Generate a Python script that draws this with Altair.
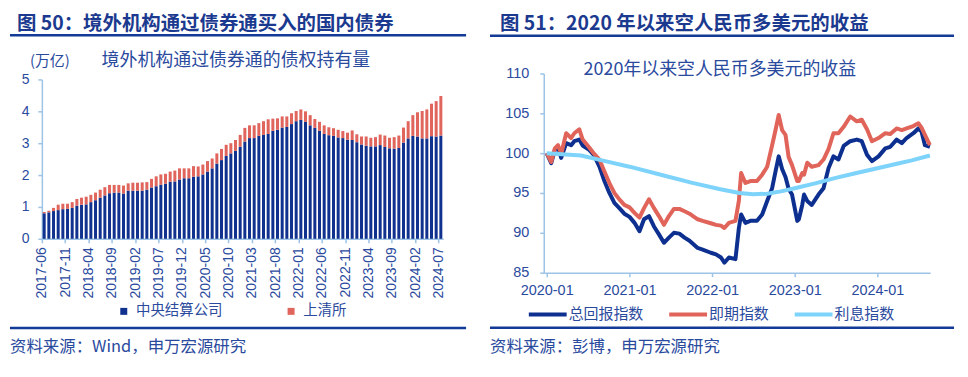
import altair as alt
import pandas as pd

FONT = "Noto Sans CJK SC"
NUMFONT = "Liberation Sans"
label_color = "#2A4A9E"
title_color = "#1B3A8F"
axis_color = "#9DC3E6"
rule_color = "#123A96"

# ---------------- left panel data ----------------
all_months = [f"{y}-{m:02d}" for y in range(2017, 2025) for m in range(1, 13)]
months = all_months[all_months.index("2017-06"):all_months.index("2024-07") + 1]
tick_months = months[::5]

ccdc = [0.80, 0.83, 0.87, 0.90, 0.93, 0.94, 0.97, 1.04, 1.07, 1.08,
        1.15, 1.21, 1.29, 1.36, 1.43, 1.45, 1.45, 1.42, 1.51, 1.51,
        1.51, 1.51, 1.54, 1.61, 1.65, 1.70, 1.73, 1.79, 1.80, 1.86,
        1.90, 1.90, 1.95, 1.96, 2.02, 2.11, 2.21, 2.36, 2.47, 2.60,
        2.68, 2.76, 2.89, 3.05, 3.16, 3.16, 3.23, 3.26, 3.29, 3.39,
        3.42, 3.49, 3.51, 3.60, 3.69, 3.73, 3.67, 3.56, 3.48, 3.39,
        3.29, 3.25, 3.23, 3.18, 3.16, 3.11, 3.10, 3.03, 2.96, 2.92,
        2.90, 2.90, 2.94, 2.88, 2.84, 2.83, 2.85, 3.02, 3.15, 3.23,
        3.21, 3.15, 3.15, 3.22, 3.21, 3.24]
shch = [0.04, 0.05, 0.10, 0.17, 0.17, 0.16, 0.18, 0.21, 0.22, 0.24,
        0.23, 0.24, 0.25, 0.26, 0.26, 0.24, 0.24, 0.25, 0.23, 0.25,
        0.25, 0.26, 0.24, 0.27, 0.31, 0.32, 0.31, 0.32, 0.34, 0.35,
        0.31, 0.31, 0.33, 0.31, 0.31, 0.33, 0.31, 0.32, 0.35, 0.35,
        0.32, 0.34, 0.37, 0.43, 0.40, 0.40, 0.40, 0.43, 0.46, 0.38,
        0.36, 0.35, 0.33, 0.34, 0.32, 0.33, 0.33, 0.32, 0.28, 0.28,
        0.27, 0.25, 0.24, 0.24, 0.22, 0.22, 0.30, 0.25, 0.25, 0.29,
        0.27, 0.29, 0.33, 0.36, 0.33, 0.36, 0.39, 0.47, 0.54, 0.65,
        0.76, 0.86, 0.91, 1.02, 1.11, 1.24]
bar_series = ["中央结算公司", "上清所"]
bar_colors = ["#11318F", "#E0655C"]

left_title = "图 50：境外机构通过债券通买入的国内债券"
left_unit = "(万亿)"
left_inner = "境外机构通过债券通的债权持有量"
left_source = "资料来源：Wind，申万宏源研究"

# ---------------- right panel data ----------------
rt_dates = [
    "2020-01-01", "2020-01-21", "2020-02-06", "2020-02-20", "2020-03-05", "2020-03-27", "2020-04-18", "2020-05-02", "2020-05-24", "2020-06-08",
    "2020-07-07", "2020-07-29", "2020-08-21", "2020-09-12", "2020-10-04", "2020-10-26", "2020-11-17", "2020-12-09", "2021-01-01", "2021-01-23",
    "2021-02-14", "2021-03-06", "2021-03-28", "2021-04-19", "2021-05-11", "2021-06-02", "2021-06-24", "2021-07-16", "2021-08-09", "2021-09-01",
    "2021-09-23", "2021-10-29", "2021-11-20", "2021-12-26", "2022-01-18", "2022-02-09", "2022-02-24", "2022-03-16", "2022-04-14", "2022-04-29",
    "2022-05-09", "2022-05-28", "2022-06-19", "2022-07-18", "2022-08-10", "2022-09-01", "2022-09-23", "2022-10-08", "2022-10-22", "2022-11-06",
    "2022-11-21", "2022-12-05", "2022-12-20", "2023-01-12", "2023-01-19", "2023-02-03", "2023-02-11", "2023-02-25", "2023-03-17", "2023-04-16",
    "2023-05-08", "2023-05-30", "2023-06-21", "2023-07-13", "2023-08-05", "2023-09-03", "2023-10-02", "2023-10-24", "2023-11-16", "2023-12-08",
    "2024-01-06", "2024-02-05", "2024-02-27", "2024-03-26", "2024-04-18", "2024-05-09", "2024-06-08", "2024-06-30", "2024-07-14", "2024-07-29",
    "2024-08-20"]
total_return = [
    100.0, 98.75, 100.4, 100.8, 99.4, 101.25, 101.0, 101.5, 101.7, 100.96,
    100.4, 99.7, 98.3, 96.5, 95.0, 93.75, 93.1, 92.4, 92.0, 91.25,
    90.2, 91.7, 92.1, 90.8, 89.8, 88.75, 89.4, 90.0, 89.9, 89.4,
    89.0, 88.1, 87.9, 87.5, 87.3, 86.9, 86.25, 86.9, 86.7, 90.6,
    92.3, 91.25, 91.5, 91.5, 92.3, 94.0, 95.6, 97.7, 99.6, 98.0,
    97.0, 95.5, 94.8, 91.5, 91.7, 93.5, 94.8, 94.0, 93.5, 94.8,
    95.6, 98.1, 99.6, 99.2, 100.9, 101.5, 101.7, 101.5, 99.8, 99.0,
    99.6, 100.6, 100.8, 101.7, 101.25, 101.9, 102.5, 103.1, 102.7, 101.0,
    100.8]
spot = [
    100.0, 98.9, 100.6, 101.0, 99.9, 102.5, 101.9, 102.5, 103.0, 101.7,
    100.7, 99.9, 99.2, 97.7, 96.25, 95.0, 94.2, 93.5, 93.2, 92.5,
    91.9, 93.1, 94.2, 93.1, 92.1, 91.0, 92.1, 93.0, 93.0, 92.7,
    92.4, 91.7, 91.5, 91.2, 91.0, 90.9, 90.6, 91.25, 91.5, 94.0,
    97.5, 96.25, 96.5, 96.5, 97.3, 98.3, 101.0, 102.9, 104.8, 102.9,
    102.3, 99.5, 98.5, 96.5, 96.5, 97.5, 97.3, 98.8, 98.3, 98.5,
    99.2, 100.5, 102.5, 102.5, 103.3, 104.6, 104.0, 104.2, 103.0, 101.5,
    101.9, 102.5, 102.4, 103.1, 102.9, 103.1, 103.4, 103.75, 103.2, 102.3,
    101.0]
carry_dates = ["2020-01-01", "2020-06-01", "2020-09-01", "2021-01-01", "2021-06-01", "2021-10-01",
               "2022-02-01", "2022-05-01", "2022-07-01", "2022-09-01", "2022-11-01", "2023-01-01",
               "2023-04-01", "2023-07-01", "2023-10-01", "2024-01-01", "2024-04-01", "2024-06-01", "2024-08-20"]
carry = [100.0, 99.7, 99.1, 98.3, 97.2, 96.3, 95.5, 95.0, 94.85, 94.9, 95.2, 95.6,
         96.2, 96.9, 97.5, 98.1, 98.7, 99.1, 99.7]
line_series = ["总回报指数", "即期指数", "利息指数"]
line_colors = ["#0D2F8F", "#E0645A", "#7DD3FA"]
year_ticks = [2020, 2021, 2022, 2023, 2024]

right_title = "图 51：2020 年以来空人民币多美元的收益"
right_inner = "2020年以来空人民币多美元的收益"
right_source = "资料来源：彭博，申万宏源研究"


# ---------------- helpers ----------------
def txt(s, x, y, size, color, weight="normal", font=FONT):
    return alt.Chart(pd.DataFrame({"t": [s]})).mark_text(
        align="left", baseline="middle", font=font, fontSize=size,
        fontWeight=weight, color=color
    ).encode(x=alt.value(x), y=alt.value(y), text="t:N")


def hline(x1, x2, y, w, color):
    return alt.Chart(pd.DataFrame({"d": [0]})).mark_rule(
        color=color, strokeWidth=w
    ).encode(x=alt.value(x1), x2=alt.value(x2), y=alt.value(y))


def frame(x1, x2, y1, y2):
    return alt.Chart(pd.DataFrame({"d": [0]})).mark_rect(opacity=0).encode(
        x=alt.value(x1), x2=alt.value(x2), y=alt.value(y1), y2=alt.value(y2))


# Both panels share the same plot origin row (page y = 73).
# ---------------- left panel ----------------
PW1, PH1 = 403, 166
BW = PW1 / len(months)

rows = []
for i, mth in enumerate(months):
    rows.append({"month": mth, "series": bar_series[0], "value": ccdc[i], "ord": 0})
    rows.append({"month": mth, "series": bar_series[1], "value": shch[i], "ord": 1})
bars_df = pd.DataFrame(rows)

bars = alt.Chart(bars_df).mark_bar().encode(
    x=alt.X("month:O", sort=months, title=None,
            scale=alt.Scale(paddingInner=0.36, paddingOuter=0.18),
            axis=alt.Axis(values=tick_months, labelAngle=-90, labelFont=NUMFONT,
                          labelFontSize=14, labelColor=label_color, domainColor=axis_color,
                          domainWidth=1.5, tickColor=axis_color, tickWidth=1.5, tickSize=4,
                          tickOffset=-BW / 2, labelPadding=4, labelOverlap=False, grid=False)),
    y=alt.Y("value:Q", stack="zero", title=None,
            scale=alt.Scale(domain=[0, 5], nice=False, range=[166, 6]),
            axis=alt.Axis(values=[0, 1, 2, 3, 4, 5], labelFont=NUMFONT, labelFontSize=14,
                          labelColor=label_color, domainColor=axis_color, domainWidth=1.5,
                          tickColor=axis_color, tickWidth=1.5, tickSize=4, labelPadding=9,
                          grid=False)),
    color=alt.Color("series:N", scale=alt.Scale(domain=bar_series, range=bar_colors),
                    legend=alt.Legend(title=None, orient="none", legendX=75, legendY=231.5,
                                      direction="horizontal", symbolType="square",
                                      symbolSize=49, symbolStrokeWidth=0, labelFont=FONT,
                                      labelFontSize=14.5, labelColor=label_color, labelOffset=5,
                                      columnPadding=61, padding=0)),
    order=alt.Order("ord:Q", sort="ascending"),
)

left = alt.layer(
    frame(-32, 448, -65, 296),
    bars,
    txt(left_title, -25, -49.5, 19.5, title_color, "bold"),
    hline(-32, 426, -38.5, 2.5, rule_color),
    txt(left_unit, -12, -13, 15, label_color),
    txt(left_inner, 60, -13, 18, label_color),
    hline(-32, 426, 255.7, 2.5, rule_color),
    txt(left_source, -32, 275, 16.5, label_color),
).properties(width=PW1, height=PH1)

# ---------------- right panel ----------------
PW2, PH2 = 388, 200

lines_df = pd.DataFrame(
    [{"date": d, "series": line_series[0], "value": v} for d, v in zip(rt_dates, total_return)]
    + [{"date": d, "series": line_series[1], "value": v} for d, v in zip(rt_dates, spot)]
    + [{"date": d, "series": line_series[2], "value": v} for d, v in zip(carry_dates, carry)]
)

xr = alt.X("date:T", title=None,
           scale=alt.Scale(type="utc", domain=[alt.DateTime(year=2019, month=12, date=19, utc=True),
                                               alt.DateTime(year=2024, month=8, date=21, utc=True)]),
           axis=alt.Axis(values=[alt.DateTime(year=y, month=1, date=1, utc=True) for y in year_ticks],
                         format="%Y-%m", labelAngle=0, labelFont=NUMFONT, labelFontSize=14.5,
                         labelColor=label_color, domainColor=axis_color, domainWidth=1.5,
                         tickColor=axis_color, tickWidth=1.5, tickSize=4, labelPadding=7,
                         grid=False))
yr = alt.Y("value:Q", title=None, scale=alt.Scale(domain=[85, 110], nice=False),
           axis=alt.Axis(values=[85, 90, 95, 100, 105, 110], labelFont=NUMFONT,
                         labelFontSize=14.5, labelColor=label_color, domainColor=axis_color,
                         domainWidth=1.5, tickColor=axis_color, tickWidth=1.5, tickSize=4,
                         labelPadding=11, grid=False))
cr = alt.Color("series:N", scale=alt.Scale(domain=line_series, range=line_colors),
               legend=alt.Legend(title=None, orient="none", legendX=-17, legendY=221,
                                 direction="horizontal", symbolType="stroke",
                                 symbolSize=1444, symbolStrokeWidth=4, labelFont=FONT,
                                 labelFontSize=15, labelColor=label_color, labelOffset=0,
                                 columnPadding=17, padding=0))

line_layers = [
    alt.Chart(lines_df).transform_filter(alt.datum.series == s)
    .mark_line(strokeWidth=4, strokeJoin="round")
    .encode(x=xr, y=yr, color=cr)
    for s in line_series
]

right = alt.layer(
    frame(-54, 418, -65, 296),
    *line_layers,
    txt(right_title, -44, -49.5, 19.5, title_color, "bold"),
    hline(-54, 412, -38, 2.5, rule_color),
    txt(right_inner, 40, -3, 18, label_color),
    hline(-54, 412, 255.3, 2.5, rule_color),
    txt(right_source, -54, 275, 16.5, label_color),
).properties(width=PW2, height=PH2)

chart = alt.hconcat(left, right, spacing=0).resolve_scale(
    x="independent", y="independent", color="independent"
).properties(padding=0).configure_view(strokeWidth=0)

chart.save("out.html", embed_options={"renderer": "svg", "actions": False})
